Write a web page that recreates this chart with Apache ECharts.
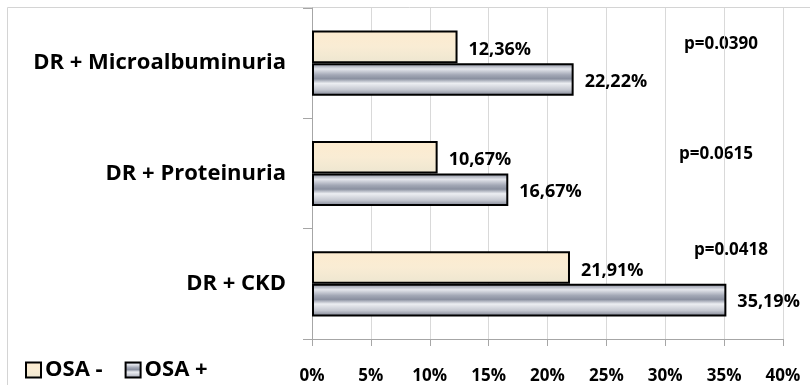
<!DOCTYPE html>
<html>
<head>
<meta charset="utf-8">
<script src="https://cdn.jsdelivr.net/npm/echarts@6/dist/echarts.min.js"></script>
<style>
  html, body { margin: 0; padding: 0; background: #ffffff; }
  #chart { width: 810px; height: 385px; }
</style>
</head>
<body>
<div id="chart"></div>
<script>
// Categories, top to bottom
var categories = ['DR + Microalbuminuria', 'DR + Proteinuria', 'DR + CKD'];
var seriesNames = ['OSA -', 'OSA +'];
var osaNeg = [12.36, 10.67, 21.91];
var osaPos = [22.22, 16.67, 35.19];
var pValues = ['p=0.0390', 'p=0.0615', 'p=0.0418'];
var xTicks = [0, 5, 10, 15, 20, 25, 30, 35, 40];

var FONT = '"Open Sans", "Noto Sans", sans-serif';

var creamFill = new echarts.graphic.LinearGradient(0, 0, 0, 1, [
  { offset: 0, color: '#fdebcf' },
  { offset: 0.5, color: '#f9ecd4' },
  { offset: 1, color: '#ede6d0' }
]);
var steelFill = new echarts.graphic.LinearGradient(0, 0, 0, 1, [
  { offset: 0, color: '#7f8494' },
  { offset: 0.18, color: '#e4e6ec' },
  { offset: 0.36, color: '#a3a8b6' },
  { offset: 0.48, color: '#8a90a0' },
  { offset: 0.62, color: '#eceef2' },
  { offset: 0.82, color: '#c4c7d0' },
  { offset: 1, color: '#7a7f8e' }
]);

function pctLabel(v) {
  return v.toFixed(2).replace('.', ',') + '%';
}

var chart = echarts.init(document.getElementById('chart'));

// p-value annotations sit on the right of each category band
var pPos = [[721, 44], [716, 154], [731, 250]];
var graphics = [{
  type: 'rect',
  shape: { x: 7.5, y: 7.5, width: 900, height: 500 },
  style: { fill: 'none', stroke: '#d4d4d4', lineWidth: 1 },
  silent: true
}];
pValues.forEach(function (p, i) {
  graphics.push({
    type: 'text',
    x: pPos[i][0], y: pPos[i][1],
    style: {
      text: p, fill: '#000',
      fontFamily: FONT, fontWeight: 'bold', fontSize: 17,
      align: 'center', verticalAlign: 'middle'
    }
  });
});

chart.setOption({
  animation: false,
  backgroundColor: '#ffffff',
  textStyle: { fontFamily: FONT },
  grid: { left: 312, right: 27, top: 8, bottom: 45, containLabel: false },
  legend: {
    data: seriesNames,
    left: 25, top: 359,
    padding: 0,
    itemWidth: 15, itemHeight: 15, itemGap: 22,
    icon: 'rect',
    textStyle: { fontFamily: FONT, fontWeight: 'bold', fontSize: 22, color: '#000', padding: [0, 0, 0, -1] }
  },
  xAxis: {
    type: 'value',
    min: 0, max: 40, interval: 5,
    axisLine: { show: true, lineStyle: { color: '#a6a6a6', width: 1 } },
    axisTick: { show: true, length: 7, lineStyle: { color: '#a6a6a6' } },
    splitLine: { show: true, lineStyle: { color: '#d9d9d9', width: 1 } },
    axisLabel: {
      margin: 29,
      color: '#000', fontFamily: FONT, fontWeight: 'bold', fontSize: 17,
      formatter: function (v) { return xTicks.indexOf(v) >= 0 ? v + '%' : ''; }
    }
  },
  yAxis: {
    type: 'category',
    inverse: true,
    data: categories,
    axisLine: { show: true, lineStyle: { color: '#a6a6a6', width: 1 } },
    axisTick: { show: true, length: 9, lineStyle: { color: '#a6a6a6' } },
    axisLabel: {
      margin: 26,
      color: '#000', fontFamily: FONT, fontWeight: 'bold', fontSize: 22,
      padding: [12, 0, 0, 0]
    }
  },
  series: [
    {
      name: seriesNames[0],
      type: 'bar',
      data: osaNeg,
      barGap: '0%',
      barCategoryGap: '41%',
      itemStyle: { color: creamFill, borderColor: '#000', borderWidth: 2 },
      label: {
        show: true, position: 'right', distance: 11, offset: [0, 3],
        color: '#000', fontFamily: FONT, fontWeight: 'bold', fontSize: 18,
        formatter: function (p) { return pctLabel(p.value); }
      }
    },
    {
      name: seriesNames[1],
      type: 'bar',
      data: osaPos,
      itemStyle: { color: steelFill, borderColor: '#000', borderWidth: 2 },
      label: {
        show: true, position: 'right', distance: 11, offset: [0, 2],
        color: '#000', fontFamily: FONT, fontWeight: 'bold', fontSize: 18,
        formatter: function (p) { return pctLabel(p.value); }
      }
    }
  ],
  graphic: graphics
});
</script>
</body>
</html>
